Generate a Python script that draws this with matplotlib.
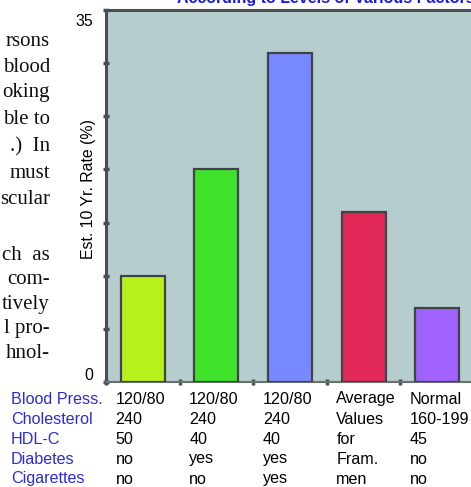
import matplotlib
matplotlib.use("Agg")
import matplotlib.pyplot as plt
from matplotlib.transforms import blended_transform_factory, ScaledTranslation

# ---- data ----
categories = ["A", "B", "C", "D", "E"]
rates = [10, 20, 31, 16, 7]
bar_colors = ["#b8f21c", "#40e22a", "#7888ff", "#e22856", "#a062fc"]
row_labels = ["Blood Press.", "Cholesterol", "HDL-C", "Diabetes", "Cigarettes"]
col_values = [
    ["120/80", "240", "50", "no", "no"],
    ["120/80", "240", "40", "yes", "no"],
    ["120/80", "240", "40", "yes", "yes"],
    ["Average", "Values", "for", "Fram.", "men"],
    ["Normal", "160-199", "45", "no", "no"],
]
ytick_values = [0, 5, 10, 15, 20, 25, 30, 35]
ytick_labels = ["0", "", "", "", "", "", "", "35"]
ylabel = "Est. 10 Yr. Rate (%)"
title = "According to Levels of Various Factors"
body_lines = ["rsons", "blood", "oking", "ble to", ".)  In", "must", "scular",
              "ch  as", "com-", "tively", "l pro-", "hnol-"]
body_line_y = [42, 67, 93, 120, 147, 173, 200, 255, 280, 305, 329, 353]

W, H = 471, 487
plt.rcParams['font.family'] = ['Liberation Sans', 'DejaVu Sans']
fig = plt.figure(figsize=(W / 100, H / 100), dpi=100)
fig.patch.set_facecolor("white")

ax_left, ax_right, ax_top, ax_bottom = 106, 474, 10, 382
ax = fig.add_axes([ax_left / W, 1 - ax_bottom / H, (ax_right - ax_left) / W, (ax_bottom - ax_top) / H])
ax.set_facecolor("#b6cdcd")

x = list(range(len(categories)))
ax.bar(x, rates, width=0.6, color=bar_colors, edgecolor="#404448", linewidth=1.6, zorder=3)
ax.set_xlim(-0.5, len(categories) - 0.5)
ax.set_ylim(0, 35)

for side in ["left", "top"]:
    ax.spines[side].set_color("#4a4e50")
    ax.spines[side].set_linewidth(2.2)
ax.spines["bottom"].set_color("#6a7070")
ax.spines["bottom"].set_linewidth(1.5)
ax.spines["right"].set_color("#4a4e50")

ax.set_yticks(ytick_values)
ax.set_yticklabels(ytick_labels, fontsize=11.4, color="black")
ax.tick_params(axis="y", direction="inout", length=5, width=2.5, color="#4a4e50", pad=7)
for lab in ax.get_yticklabels():
    if lab.get_text() == "35":
        lab.set_va("center")
        lab.set_transform(lab.get_transform() + ScaledTranslation(0, -12 / 100, fig.dpi_scale_trans))
    elif lab.get_text() == "0":
        lab.set_va("center")
        lab.set_transform(lab.get_transform() + ScaledTranslation(0, 7 / 100, fig.dpi_scale_trans))

ax.set_xticks([i + 0.5 for i in x[:-1]] + [-0.5])
ax.set_xticklabels([])
ax.tick_params(axis="x", direction="inout", length=5, width=2.5, color="#4a4e50")

ax.set_ylabel(ylabel, fontsize=11.4, va="center")
ax.yaxis.set_label_coords((88 - ax_left) / (ax_right - ax_left), 0.52)

# title (mostly cut off at top, as in the page crop)
fig.text(177 / W, 1 - 2.5 / H, title, fontsize=11.5, fontweight="bold", color="#1a1ae6",
         ha="left", va="baseline")

# table below the chart
row_y = [399, 419, 439, 459, 479]
blue = "#2b2bdc"
for lab, yy in zip(row_labels, row_y):
    fig.text(11 / W, 1 - yy / H, lab, fontsize=11.6, color=blue, ha="left", va="center")
trans = blended_transform_factory(ax.transData, fig.transFigure)
for i, vals in enumerate(col_values):
    for v, yy in zip(vals, row_y):
        fig.text(i - 0.37, 1 - yy / H, v, fontsize=11.6, color="black",
                 ha="left", va="center", transform=trans)

# body text fragments on the left (page crop)
for line, yy in zip(body_lines, body_line_y):
    fig.text(50 / W, 1 - yy / H, line, fontsize=15, family=["Liberation Serif", "DejaVu Serif"],
             color="#111111", ha="right", va="center")

fig.savefig("out.png", dpi=100)
